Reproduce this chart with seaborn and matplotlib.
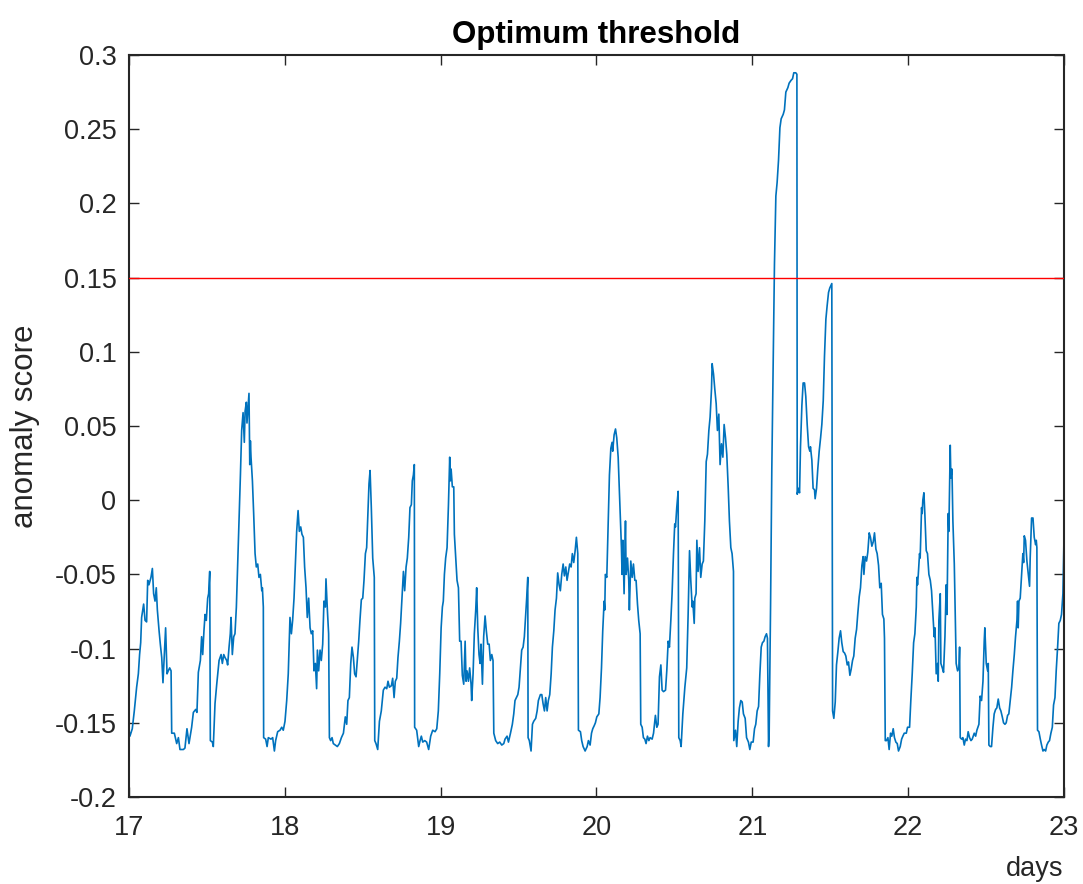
import numpy as np
import pandas as pd
import matplotlib
matplotlib.use("Agg")
import matplotlib.pyplot as plt
import seaborn as sns

# ---------------- data ----------------
title_text = "Optimum threshold"
x_label = "days"
y_label = "anomaly score"
threshold = 0.15
x_ticks = [17, 18, 19, 20, 21, 22, 23]
y_ticks = [-0.2, -0.15, -0.1, -0.05, 0, 0.05, 0.1, 0.15, 0.2, 0.25, 0.3]
y_tick_labels = ["-0.2", "-0.15", "-0.1", "-0.05", "0", "0.05", "0.1", "0.15", "0.2", "0.25", "0.3"]

days_17 = [17.000, 17.006, 17.021, 17.034, 17.049, 17.060, 17.068, 17.075, 17.081, 17.094,
           17.103, 17.113, 17.120, 17.128, 17.141, 17.150, 17.158, 17.167, 17.175, 17.182,
           17.193, 17.201, 17.210, 17.218, 17.227, 17.235, 17.244, 17.252, 17.261, 17.270,
           17.274, 17.291, 17.306, 17.317, 17.327, 17.349, 17.359, 17.372, 17.385, 17.402,
           17.413, 17.428, 17.436, 17.445, 17.458, 17.466, 17.473, 17.481, 17.488, 17.496,
           17.505, 17.511, 17.518, 17.522, 17.535, 17.541, 17.552, 17.563, 17.578, 17.591,
           17.599, 17.608, 17.616, 17.627, 17.633, 17.642, 17.650, 17.655, 17.663, 17.672,
           17.680, 17.689, 17.697, 17.706, 17.715, 17.723, 17.732, 17.740, 17.745, 17.753,
           17.757, 17.764, 17.770, 17.775, 17.779, 17.783, 17.792, 17.800, 17.809, 17.817,
           17.826, 17.834, 17.843, 17.852, 17.856, 17.862, 17.864, 17.877, 17.886, 17.894,
           17.911, 17.922, 17.933, 17.941, 17.954]
score_17 = [-0.155, -0.159, -0.154, -0.142, -0.126, -0.117, -0.104, -0.096, -0.079, -0.070,
            -0.081, -0.082, -0.054, -0.057, -0.052, -0.046, -0.063, -0.068, -0.059, -0.074,
            -0.088, -0.097, -0.106, -0.123, -0.104, -0.086, -0.117, -0.115, -0.113, -0.115,
            -0.157, -0.157, -0.164, -0.160, -0.168, -0.168, -0.167, -0.154, -0.164, -0.153,
            -0.143, -0.141, -0.143, -0.116, -0.108, -0.092, -0.104, -0.088, -0.077, -0.081,
            -0.066, -0.063, -0.048, -0.162, -0.163, -0.166, -0.137, -0.124, -0.108, -0.104,
            -0.110, -0.104, -0.106, -0.108, -0.111, -0.099, -0.090, -0.079, -0.104, -0.092,
            -0.090, -0.072, -0.045, -0.014, 0.017, 0.047, 0.059, 0.039, 0.060, 0.066,
            0.052, 0.063, 0.072, 0.024, 0.040, 0.029, 0.013, -0.009, -0.036, -0.045,
            -0.043, -0.052, -0.050, -0.061, -0.059, -0.072, -0.160, -0.161, -0.166, -0.160,
            -0.161, -0.160, -0.169, -0.162, -0.156]

days_18 = [17.969, 17.980, 17.990, 18.001, 18.012, 18.022, 18.033, 18.042, 18.050, 18.059,
           18.067, 18.076, 18.085, 18.093, 18.102, 18.110, 18.119, 18.127, 18.136, 18.144,
           18.153, 18.162, 18.170, 18.179, 18.187, 18.196, 18.204, 18.209, 18.217, 18.226,
           18.234, 18.243, 18.251, 18.260, 18.264, 18.273, 18.281, 18.286, 18.294, 18.303,
           18.311, 18.324, 18.337, 18.350, 18.363, 18.376, 18.388, 18.397, 18.405, 18.414,
           18.423, 18.431, 18.440, 18.448, 18.457, 18.465, 18.474, 18.482, 18.491, 18.500,
           18.508, 18.517, 18.525, 18.534, 18.540, 18.547, 18.555, 18.564, 18.574, 18.577,
           18.585, 18.596, 18.607, 18.619, 18.632, 18.643, 18.654, 18.662, 18.671, 18.684,
           18.692, 18.701, 18.709, 18.718, 18.726, 18.735, 18.743, 18.752, 18.761, 18.769,
           18.778, 18.786, 18.795, 18.803, 18.812, 18.818, 18.825, 18.831, 18.833, 18.846,
           18.859, 18.868, 18.876, 18.885, 18.898, 18.910, 18.923, 18.936, 18.949]
score_18 = [-0.155, -0.153, -0.155, -0.149, -0.135, -0.117, -0.079, -0.090, -0.081, -0.066,
            -0.045, -0.021, -0.007, -0.021, -0.018, -0.023, -0.025, -0.045, -0.059, -0.079,
            -0.066, -0.086, -0.090, -0.088, -0.115, -0.110, -0.127, -0.101, -0.115, -0.101,
            -0.108, -0.097, -0.068, -0.072, -0.053, -0.074, -0.090, -0.160, -0.162, -0.160,
            -0.164, -0.165, -0.166, -0.164, -0.160, -0.157, -0.146, -0.151, -0.135, -0.133,
            -0.110, -0.099, -0.106, -0.117, -0.119, -0.108, -0.095, -0.081, -0.067, -0.066,
            -0.054, -0.036, -0.032, -0.007, 0.011, 0.020, -0.005, -0.039, -0.052, -0.162,
            -0.164, -0.168, -0.149, -0.142, -0.128, -0.126, -0.127, -0.122, -0.126, -0.125,
            -0.120, -0.133, -0.122, -0.120, -0.106, -0.095, -0.083, -0.066, -0.048, -0.061,
            -0.045, -0.039, -0.025, -0.005, -0.003, 0.013, 0.017, 0.024, -0.153, -0.155,
            -0.166, -0.162, -0.159, -0.163, -0.162, -0.163, -0.168, -0.159, -0.155]

days_19 = [18.964, 18.975, 18.985, 18.994, 19.003, 19.011, 19.017, 19.024, 19.032, 19.041,
           19.050, 19.058, 19.062, 19.067, 19.075, 19.084, 19.088, 19.097, 19.105, 19.114,
           19.122, 19.131, 19.139, 19.148, 19.157, 19.163, 19.169, 19.178, 19.186, 19.195,
           19.199, 19.208, 19.216, 19.225, 19.231, 19.238, 19.246, 19.253, 19.259, 19.268,
           19.276, 19.285, 19.293, 19.302, 19.311, 19.319, 19.328, 19.336, 19.341, 19.353,
           19.366, 19.379, 19.392, 19.405, 19.413, 19.426, 19.435, 19.448, 19.460, 19.469,
           19.477, 19.486, 19.495, 19.503, 19.512, 19.520, 19.529, 19.537, 19.546, 19.552,
           19.559, 19.561, 19.569, 19.580, 19.589, 19.597, 19.610, 19.619, 19.627, 19.640,
           19.649, 19.657, 19.666, 19.674, 19.683, 19.691, 19.700, 19.709, 19.717, 19.726,
           19.734, 19.743, 19.751, 19.760, 19.768, 19.777, 19.786, 19.794, 19.803, 19.811,
           19.820, 19.828, 19.837, 19.845, 19.854, 19.863, 19.871, 19.880, 19.884, 19.897,
           19.905, 19.914, 19.927, 19.940, 19.948]
score_19 = [-0.156, -0.154, -0.142, -0.117, -0.086, -0.072, -0.068, -0.050, -0.039, -0.032,
            -0.003, 0.029, 0.013, 0.021, 0.009, 0.009, -0.023, -0.039, -0.054, -0.059,
            -0.095, -0.095, -0.118, -0.124, -0.095, -0.122, -0.115, -0.122, -0.113, -0.124,
            -0.135, -0.117, -0.090, -0.074, -0.059, -0.086, -0.104, -0.110, -0.097, -0.124,
            -0.092, -0.078, -0.088, -0.097, -0.097, -0.108, -0.104, -0.108, -0.157, -0.162,
            -0.164, -0.163, -0.165, -0.164, -0.161, -0.159, -0.163, -0.157, -0.151, -0.144,
            -0.135, -0.133, -0.131, -0.126, -0.113, -0.101, -0.099, -0.092, -0.077, -0.066,
            -0.052, -0.160, -0.162, -0.169, -0.151, -0.149, -0.147, -0.142, -0.135, -0.131,
            -0.131, -0.137, -0.142, -0.133, -0.142, -0.135, -0.131, -0.117, -0.099, -0.088,
            -0.074, -0.066, -0.049, -0.057, -0.061, -0.050, -0.043, -0.051, -0.045, -0.054,
            -0.048, -0.043, -0.045, -0.036, -0.042, -0.034, -0.025, -0.036, -0.155, -0.156,
            -0.162, -0.166, -0.169, -0.166, -0.162]

days_20 = [19.959, 19.968, 19.976, 19.985, 19.993, 20.002, 20.015, 20.023, 20.032, 20.040,
           20.049, 20.053, 20.057, 20.066, 20.075, 20.083, 20.092, 20.100, 20.104, 20.113,
           20.122, 20.130, 20.139, 20.147, 20.152, 20.160, 20.164, 20.169, 20.177, 20.186,
           20.190, 20.199, 20.207, 20.211, 20.220, 20.229, 20.237, 20.246, 20.254, 20.263,
           20.271, 20.280, 20.284, 20.293, 20.301, 20.310, 20.318, 20.327, 20.336, 20.344,
           20.357, 20.366, 20.378, 20.387, 20.395, 20.404, 20.413, 20.421, 20.430, 20.443,
           20.451, 20.460, 20.468, 20.477, 20.485, 20.494, 20.502, 20.507, 20.515, 20.524,
           20.528, 20.537, 20.543, 20.554, 20.567, 20.579, 20.588, 20.597, 20.605, 20.614,
           20.618, 20.627, 20.631, 20.639, 20.644, 20.652, 20.661, 20.669, 20.678, 20.686,
           20.695, 20.704, 20.712, 20.721, 20.729, 20.738, 20.742, 20.751, 20.759, 20.768,
           20.776, 20.785, 20.793, 20.802, 20.811, 20.819, 20.828, 20.836, 20.845, 20.853,
           20.862, 20.870, 20.879, 20.881, 20.892, 20.900, 20.909, 20.917, 20.926, 20.935,
           20.943]
score_20 = [-0.165, -0.157, -0.154, -0.152, -0.150, -0.146, -0.144, -0.133, -0.113, -0.088,
            -0.068, -0.074, -0.050, -0.052, -0.014, 0.017, 0.035, 0.039, 0.033, 0.044,
            0.048, 0.042, 0.029, 0.006, -0.009, -0.032, -0.050, -0.027, -0.063, -0.014,
            -0.050, -0.039, -0.054, -0.074, -0.041, -0.052, -0.043, -0.054, -0.054, -0.070,
            -0.081, -0.090, -0.151, -0.153, -0.160, -0.161, -0.164, -0.159, -0.162, -0.160,
            -0.161, -0.157, -0.145, -0.153, -0.151, -0.119, -0.111, -0.128, -0.129, -0.128,
            -0.115, -0.095, -0.099, -0.081, -0.063, -0.036, -0.016, -0.018, -0.005, 0.006,
            -0.160, -0.162, -0.166, -0.144, -0.126, -0.113, -0.077, -0.034, -0.054, -0.072,
            -0.068, -0.083, -0.066, -0.063, -0.027, -0.048, -0.032, -0.052, -0.043, -0.041,
            -0.014, 0.026, 0.031, 0.047, 0.056, 0.075, 0.092, 0.085, 0.075, 0.065,
            0.047, 0.058, 0.024, 0.038, 0.029, 0.051, 0.042, 0.031, 0.009, -0.014,
            -0.032, -0.036, -0.048, -0.162, -0.155, -0.166, -0.149, -0.140, -0.135, -0.136,
            -0.144]

days_21 = [20.954, 20.963, 20.975, 20.984, 20.993, 21.005, 21.014, 21.022, 21.031, 21.040,
           21.048, 21.057, 21.065, 21.074, 21.082, 21.091, 21.097, 21.104, 21.108, 21.117,
           21.125, 21.134, 21.142, 21.151, 21.159, 21.168, 21.177, 21.185, 21.198, 21.206,
           21.215, 21.228, 21.236, 21.249, 21.258, 21.266, 21.279, 21.286, 21.288, 21.296,
           21.303, 21.309, 21.318, 21.326, 21.335, 21.343, 21.352, 21.361, 21.369, 21.373,
           21.382, 21.390, 21.399, 21.403, 21.412, 21.420, 21.429, 21.438, 21.446, 21.455,
           21.463, 21.472, 21.480, 21.489, 21.497, 21.506, 21.510, 21.515, 21.523, 21.532,
           21.540, 21.549, 21.557, 21.566, 21.574, 21.583, 21.592, 21.600, 21.609, 21.617,
           21.626, 21.634, 21.643, 21.651, 21.660, 21.669, 21.677, 21.686, 21.694, 21.703,
           21.711, 21.716, 21.724, 21.733, 21.741, 21.750, 21.758, 21.767, 21.776, 21.784,
           21.793, 21.801, 21.810, 21.818, 21.827, 21.835, 21.844, 21.848, 21.853, 21.861,
           21.870, 21.878, 21.887, 21.895, 21.904, 21.912, 21.921, 21.930, 21.938]
score_21 = [-0.147, -0.160, -0.163, -0.168, -0.163, -0.163, -0.154, -0.151, -0.142, -0.139,
            -0.118, -0.099, -0.096, -0.095, -0.092, -0.090, -0.093, -0.166, -0.157, -0.071,
            0.021, 0.097, 0.159, 0.205, 0.214, 0.229, 0.251, 0.257, 0.260, 0.263,
            0.275, 0.278, 0.281, 0.283, 0.284, 0.288, 0.288, 0.287, 0.004, 0.008,
            0.005, 0.036, 0.064, 0.079, 0.079, 0.070, 0.051, 0.036, 0.033, 0.036,
            0.027, 0.008, 0.007, 0.001, 0.008, 0.021, 0.033, 0.042, 0.051, 0.067,
            0.097, 0.122, 0.131, 0.140, 0.143, 0.145, 0.146, -0.142, -0.147, -0.136,
            -0.111, -0.102, -0.093, -0.088, -0.096, -0.102, -0.103, -0.105, -0.111, -0.109,
            -0.118, -0.114, -0.108, -0.105, -0.093, -0.087, -0.076, -0.065, -0.059, -0.044,
            -0.038, -0.050, -0.038, -0.041, -0.035, -0.022, -0.025, -0.031, -0.028, -0.022,
            -0.033, -0.036, -0.044, -0.059, -0.056, -0.077, -0.080, -0.093, -0.162, -0.162,
            -0.160, -0.168, -0.157, -0.159, -0.154, -0.160, -0.163, -0.164, -0.169]

days_22 = [21.949, 21.958, 21.966, 21.975, 21.988, 21.996, 22.009, 22.017, 22.026, 22.035,
           22.043, 22.052, 22.056, 22.060, 22.065, 22.073, 22.077, 22.086, 22.090, 22.094,
           22.101, 22.107, 22.116, 22.124, 22.133, 22.142, 22.150, 22.159, 22.167, 22.172,
           22.180, 22.189, 22.193, 22.197, 22.206, 22.210, 22.219, 22.227, 22.236, 22.244,
           22.249, 22.257, 22.261, 22.270, 22.274, 22.281, 22.287, 22.296, 22.304, 22.308,
           22.317, 22.326, 22.330, 22.334, 22.343, 22.351, 22.360, 22.368, 22.377, 22.385,
           22.394, 22.403, 22.411, 22.424, 22.433, 22.441, 22.454, 22.462, 22.471, 22.480,
           22.488, 22.492, 22.501, 22.510, 22.514, 22.518, 22.527, 22.535, 22.544, 22.552,
           22.561, 22.569, 22.578, 22.587, 22.595, 22.604, 22.612, 22.621, 22.629, 22.638,
           22.646, 22.655, 22.664, 22.672, 22.681, 22.689, 22.698, 22.702, 22.706, 22.711,
           22.719, 22.728, 22.736, 22.741, 22.745, 22.753, 22.762, 22.771, 22.779, 22.783,
           22.792, 22.801, 22.809, 22.818, 22.822, 22.826, 22.830, 22.839, 22.848, 22.856,
           22.865, 22.873, 22.882, 22.890, 22.899, 22.907, 22.916, 22.925, 22.933, 22.942,
           22.950, 22.959, 22.967, 22.976, 22.984, 22.993, 23.000]
score_22 = [-0.166, -0.161, -0.159, -0.157, -0.157, -0.153, -0.153, -0.135, -0.117, -0.096,
            -0.090, -0.072, -0.052, -0.057, -0.050, -0.036, -0.039, -0.005, -0.009, 0.000,
            0.005, -0.009, -0.034, -0.036, -0.050, -0.054, -0.061, -0.077, -0.092, -0.086,
            -0.117, -0.110, -0.122, -0.081, -0.063, -0.110, -0.113, -0.116, -0.092, -0.057,
            -0.077, -0.009, -0.021, 0.037, 0.015, 0.021, -0.014, -0.043, -0.086, -0.110,
            -0.115, -0.113, -0.099, -0.160, -0.161, -0.160, -0.165, -0.161, -0.162, -0.156,
            -0.160, -0.162, -0.161, -0.157, -0.159, -0.155, -0.151, -0.132, -0.135, -0.122,
            -0.095, -0.086, -0.110, -0.115, -0.110, -0.165, -0.166, -0.166, -0.153, -0.144,
            -0.141, -0.140, -0.134, -0.140, -0.142, -0.146, -0.150, -0.151, -0.150, -0.145,
            -0.144, -0.135, -0.126, -0.115, -0.104, -0.092, -0.081, -0.068, -0.086, -0.068,
            -0.066, -0.050, -0.036, -0.042, -0.024, -0.027, -0.041, -0.050, -0.058, -0.039,
            -0.012, -0.012, -0.025, -0.030, -0.027, -0.032, -0.155, -0.156, -0.161, -0.165,
            -0.169, -0.168, -0.169, -0.165, -0.163, -0.162, -0.157, -0.153, -0.138, -0.133,
            -0.115, -0.099, -0.083, -0.081, -0.077, -0.063, -0.025]

# ---------------- assemble ----------------
all_days = days_17 + days_18 + days_19 + days_20 + days_21 + days_22
all_scores = score_17 + score_18 + score_19 + score_20 + score_21 + score_22
df = pd.DataFrame({"day": all_days, "score": all_scores})

# ---------------- style ----------------
sns.set_theme(style="white")
plt.rcParams["font.family"] = ["Liberation Sans", "DejaVu Sans"]
text_color = "#262626"

W, H = 1083, 884
fig = plt.figure(figsize=(W / 100, H / 100), dpi=100)
ax = fig.add_axes([129 / W, (H - 797) / H, (1064 - 129) / W, (797 - 55) / H])

sns.lineplot(data=df, x="day", y="score", estimator=None, sort=False,
             color="#0072BD", linewidth=1.2, ax=ax)
ax.axhline(threshold, color="#FF0000", linewidth=1.0, zorder=3)

ax.set_xlim(17, 23)
ax.set_ylim(-0.2, 0.3)
ax.set_xticks(x_ticks)
ax.set_xticklabels([str(t) for t in x_ticks])
ax.set_yticks(y_ticks)
ax.set_yticklabels(y_tick_labels)

ax.tick_params(axis="both", which="major", direction="in", length=7, width=1.0,
               color=text_color, labelcolor=text_color, labelsize=19.5,
               top=True, right=True, bottom=True, left=True)
ax.tick_params(axis="x", pad=13)
ax.tick_params(axis="y", pad=9)

for s in ax.spines.values():
    s.set_visible(True)
    s.set_color(text_color)
    s.set_linewidth(1.5)

ax.set_title(title_text, fontsize=22.5, fontweight="bold", color="black", pad=9)
ax.set_xlabel(x_label, fontsize=19.5, color=text_color, loc="right")
ax.xaxis.set_label_coords(0.999, -0.080)
ax.set_ylabel(y_label, fontsize=22.5, color=text_color)
ax.yaxis.set_label_coords(-0.095, 0.5)
ax.grid(False)

fig.savefig("out.png", dpi=100, facecolor="white")
